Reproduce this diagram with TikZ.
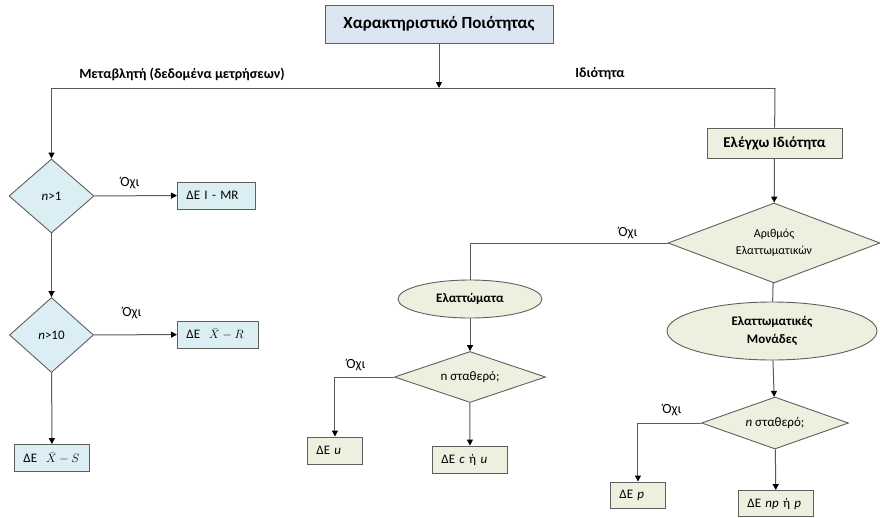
\documentclass[tikz,border=0pt]{standalone}
\usepackage{fontspec}
\setmainfont{Carlito}
\usetikzlibrary{shapes, arrows, arrows.meta, positioning}
\usetikzlibrary{shapes.geometric}

\definecolor{titleblue}{HTML}{DCE6F2}
\definecolor{leftblue}{HTML}{DBEEF4}
\definecolor{rightgreen}{HTML}{EBF1DE}
\definecolor{edgegray}{HTML}{5F5F5F}
\definecolor{linegray}{HTML}{595959}

\begin{document}
\begin{tikzpicture}[x=1pt, y=-1pt]
            \tikzstyle{every node}=[font=\fontsize{13}{15}\selectfont]
            \tikzstyle{box}=[draw=edgegray, line width=0.9pt, minimum height=27pt, inner xsep=9pt, align=left, anchor=west]
            \tikzstyle{dec}=[diamond, draw=edgegray, line width=0.9pt, inner sep=0pt, aspect=2]
            \tikzstyle{oval}=[ellipse, draw=edgegray, line width=0.9pt, inner sep=0pt, fill=rightgreen, align=center, font=\fontsize{13}{18}\selectfont\bfseries]
            \tikzstyle{tag}=[font=\fontsize{14}{16}\selectfont\bfseries]
            \tikzstyle{no}=[font=\fontsize{14}{16}\selectfont]
            \tikzstyle{line}=[draw=linegray, line width=1pt]
            \tikzstyle{arr}=[line, -{Triangle[black, length=6pt, width=6pt]}]
            \useasboundingbox (0,0) rectangle (880,517);

            % top
            \node[draw=edgegray, line width=0.9pt, fill=titleblue, minimum width=228pt, minimum height=38pt,
                  font=\fontsize{17}{19}\selectfont\bfseries] (quality) at (439,24) {Χαρακτηριστικό Ποιότητας};
            \coordinate (split) at (439,88);
            \coordinate (varend) at (51.5,88);
            \coordinate (attend) at (775,88);
            \node[tag] at (182,74) {Μεταβλητή (δεδομένα μετρήσεων)};
            \node[tag] at (600,74) {Ιδιότητα};

            % variables
            \node[dec, fill=leftblue, minimum width=85pt, minimum height=74pt] (big1) at (51.5,196) {\textit{n}>1};
            \node[dec, fill=leftblue, minimum width=84pt, minimum height=75pt] (big10) at (51.5,335) {\textit{n}>10};
            \node[box, fill=leftblue, text width=60pt] (imr) at (177,195.5) {ΔΕ I - MR};
            \node[box, fill=leftblue, text width=63pt] (xr) at (177,334.5) {ΔΕ\hspace{9pt}$\bar{X}-R$};
            \node[box, fill=leftblue, text width=57pt] (xs) at (14,458) {ΔΕ\hspace{9pt}$\bar{X}-S$};

            % attributes
            \node[box, anchor=center, fill=rightgreen, minimum width=135pt, minimum height=30pt, align=center,
                  font=\fontsize{15}{17}\selectfont\bfseries] (check) at (774.5,143) {Ελέγχω Ιδιότητα};
            \node[dec, fill=rightgreen, minimum width=212pt, minimum height=80pt, align=center,
                  font=\fontsize{12}{17}\selectfont] (count) at (774,243) {Αριθμός\\Ελαττωματικών};
            \node[oval, minimum width=144pt, minimum height=38pt] (defects) at (470,299) {Ελαττώματα};
            \node[oval, minimum width=210pt, minimum height=58pt] (units) at (772,331) {Ελαττωματικές\\Μονάδες};
            \node[dec, fill=rightgreen, minimum width=151pt, minimum height=51pt] (fixn1) at (470,377) {n σταθερό;};
            \node[dec, fill=rightgreen, minimum width=147pt, minimum height=52pt] (fixn2) at (775,423) {\textit{n} σταθερό;};
            \node[box, fill=rightgreen, text width=37pt] (uchart) at (307,450.5) {ΔΕ \textit{u}};
            \node[box, fill=rightgreen, text width=57pt] (cuchart) at (432,459.5) {ΔΕ \textit{c} ή \textit{u}};
            \node[box, fill=rightgreen, text width=37pt, minimum height=26pt] (pchart) at (610,495) {ΔΕ \textit{p}};
            \node[box, fill=rightgreen, text width=57pt, minimum height=26pt] (npchart) at (738,503.5) {ΔΕ \textit{np} ή \textit{p}};

            % connectors
            \draw[arr] (quality) -- (split);
            \draw[line] (varend) -- (attend);
            \draw[arr] (varend) -- (big1);
            \draw[arr] (big1) -- (imr);
            \draw[arr] (big1) -- (big10);
            \draw[arr] (big10) -- (xr);
            \draw[arr] (big10) -- (xs);
            \draw[line] (attend) -- (check);
            \draw[arr] (check) -- (count);
            \draw[line] (count.west) -| (defects.north);
            \draw[line] (count) -- (units);
            \draw[arr] (defects) -- (fixn1);
            \draw[arr] (units) -- (fixn2);
            \draw[arr] (fixn1.west) -| (uchart.north);
            \draw[arr] (fixn1) -- (cuchart);
            \draw[arr] (fixn2.west) -| (pchart.north);
            \draw[arr] (fixn2) -- (npchart);

            \node[no] at (130,183) {Όχι};
            \node[no] at (132,313) {Όχι};
            \node[no] at (628,233) {Όχι};
            \node[no] at (356,365) {Όχι};
            \node[no] at (672,410) {Όχι};
\end{tikzpicture}
\end{document}
